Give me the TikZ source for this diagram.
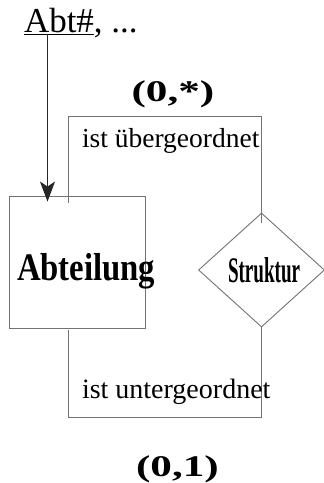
\documentclass[tikz,border=0pt]{standalone}
\usepackage{fontspec}
\setmainfont{Liberation Serif}
\usetikzlibrary{shapes.geometric,arrows.meta}
\tikzset{
  line/.style={draw=black!55, line width=0.9pt},
  lbl/.style={inner sep=0pt, outer sep=0pt, anchor=base west},
}
\begin{document}
\begin{tikzpicture}[x=1pt,y=-1pt]
\useasboundingbox[fill=white] (0,0) rectangle (324,483);
% entity and relationship
\node[line, rectangle, minimum width=135.5pt, minimum height=132pt, inner sep=0pt] (abt) at (77.25,262) {};
\node[line, diamond, minimum width=126pt, minimum height=114pt, inner sep=0pt, aspect=1.1] (rel) at (261.5,270) {};
\node[lbl] (abtxt) at (17,280) {\fontsize{39}{41}\selectfont\scalebox{0.84}[1]{\bfseries Abteilung}};
\node[lbl] (reltxt) at (228,282) {\fontsize{36}{38}\selectfont\scalebox{0.53}[1]{\bfseries Struktur}};
% key attribute
\node[lbl] (key) at (24,32) {\fontsize{35}{37}\selectfont\underline{Abt\#}, ...};
\coordinate (ks) at (47.5,34);
\draw[black!85, line width=0.9pt, -{Stealth[length=20pt,width=15pt,inset=5pt]}] (ks) -- ([yshift=-6pt]abt.north -| ks);
% upper role
\coordinate (u1) at (68,203);
\coordinate (u2) at (68,116);
\coordinate (u3) at (261,116);
\coordinate (u4) at (261,223);
\draw[line] (u1) -- (u2) -- (u3) -- (u4);
\node[lbl] (ueb) at (82,147) {\fontsize{27.5}{29}\selectfont ist übergeordnet};
\node[inner sep=0pt, anchor=base] (card1) at (173,101) {\fontsize{30}{32}\selectfont\scalebox{1.44}[1]{\bfseries (0,*)}};
% lower role
\coordinate (l1) at (68,330);
\coordinate (l2) at (68,417);
\coordinate (l3) at (261,417);
\coordinate (l4) at (261,327);
\draw[line] (l1) -- (l2) -- (l3) -- (l4);
\node[lbl] (unt) at (82,398) {\fontsize{28}{30}\selectfont ist untergeordnet};
\node[inner sep=0pt, anchor=base] (card2) at (177.5,476) {\fontsize{30}{32}\selectfont\scalebox{1.44}[1]{\bfseries (0,1)}};
\end{tikzpicture}
\end{document}
